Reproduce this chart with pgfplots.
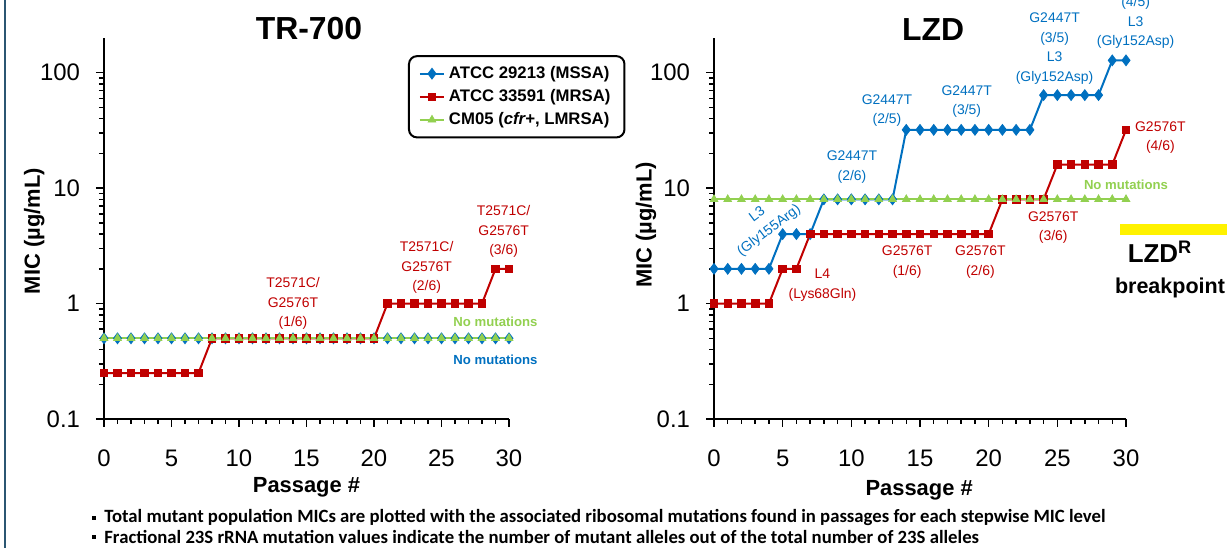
\documentclass[border=0pt]{standalone}
\usepackage{pgfplots}
\pgfplotsset{compat=1.18}
\usepackage{fontspec}
\setmainfont{Liberation Sans}
\newfontfamily\calibri{Carlito}

\definecolor{mssa}{HTML}{0070C0}
\definecolor{mrsa}{HTML}{C00000}
\definecolor{lmrsa}{HTML}{92D050}
\definecolor{slideframe}{HTML}{2B5672}

\pgfplotsset{
  every axis/.append style={
    scale only axis, height=190.5bp,
    ymode=log, ymin=0.1, ymax=200,
    xmin=0, xmax=30,
    axis x line*=bottom, axis y line*=left,
    axis line style={line width=0.75bp},
    tick align=outside,
    xtick={0,5,...,30}, minor x tick num=4,
    ytick={0.1,1,10,100}, yticklabels={0.1,1,10,100},
    major tick length=4bp, minor tick length=2.5bp,
    tick style={line width=0.75bp, black},
    tick label style={font=\fontsize{12}{14}\selectfont},
    xticklabel style={yshift=-8bp},
    yticklabel style={xshift=-4.5bp},
    /pgf/number format/assume math mode=true,
    label style={font=\bfseries\fontsize{11}{13}\selectfont},
    title style={font=\bfseries\fontsize{16}{18}\selectfont, anchor=center, yshift=-6pt},
    xlabel={Passage \#}, ylabel={MIC (µg/mL)},
    clip=false,
  },
}
\tikzset{
  mssaplot/.style={mssa, line width=1bp, mark=diamond*, mark size=2.7bp, mark options={fill=mssa, line width=0.4bp}},
  mrsaplot/.style={mrsa, line width=1bp, mark=square*, mark size=1.9bp, mark options={fill=mrsa, line width=0.4bp}},
  lmrsaplot/.style={lmrsa, line width=1bp, mark=triangle*, mark size=2.2bp, mark options={fill=lmrsa, line width=0.4bp}},
  ann/.style={align=center, inner sep=0pt, font=\fontsize{7}{9.8}\selectfont},
  nomut/.style={inner sep=0pt, font=\bfseries\fontsize{6.6}{8}\selectfont},
}

\begin{document}
\begin{tikzpicture}
\useasboundingbox (0,0) rectangle (613.5bp,274bp);
\draw[slideframe, line width=1.3bp] (2.4bp,0) -- (2.4bp,274bp);

% TR-700
\begin{axis}[at={(52bp,64.5bp)}, anchor=south west, width=202.5bp,
  title={TR-700}, title style={at={(axis description cs:0.506,1.026)}},
  xlabel style={at={(axis description cs:0.5,-0.18)}, anchor=center},
  ylabel style={at={(axis description cs:-0.172,0.493)}, anchor=center},
  legend style={at={(axis description cs:0.7506,0.955)}, anchor=north west,
    draw=black, line width=1bp, rounded corners=4bp,
    font=\bfseries\fontsize{8.4}{10}\selectfont, row sep=0bp,
    inner xsep=5bp, inner ysep=3bp},
  legend cell align=left,
  legend image code/.code={\draw[mark repeat=2,mark phase=2] plot coordinates {(0bp,0bp) (6bp,0bp) (12bp,0bp)};},
]
\addplot[mssaplot] coordinates {(0,0.5) (1,0.5) (2,0.5) (3,0.5) (4,0.5) (5,0.5) (6,0.5) (7,0.5) (8,0.5) (9,0.5) (10,0.5) (11,0.5) (12,0.5) (13,0.5) (14,0.5) (15,0.5) (16,0.5) (17,0.5) (18,0.5) (19,0.5) (20,0.5) (21,0.5) (22,0.5) (23,0.5) (24,0.5) (25,0.5) (26,0.5) (27,0.5) (28,0.5) (29,0.5) (30,0.5)};
\addlegendentry{ATCC 29213 (MSSA)}
\addplot[mrsaplot] coordinates {(0,0.25) (1,0.25) (2,0.25) (3,0.25) (4,0.25) (5,0.25) (6,0.25) (7,0.25) (8,0.5) (9,0.5) (10,0.5) (11,0.5) (12,0.5) (13,0.5) (14,0.5) (15,0.5) (16,0.5) (17,0.5) (18,0.5) (19,0.5) (20,0.5) (21,1) (22,1) (23,1) (24,1) (25,1) (26,1) (27,1) (28,1) (29,2) (30,2)};
\addlegendentry{ATCC 33591 (MRSA)}
\addplot[lmrsaplot] coordinates {(0,0.5) (1,0.5) (2,0.5) (3,0.5) (4,0.5) (5,0.5) (6,0.5) (7,0.5) (8,0.5) (9,0.5) (10,0.5) (11,0.5) (12,0.5) (13,0.5) (14,0.5) (15,0.5) (16,0.5) (17,0.5) (18,0.5) (19,0.5) (20,0.5) (21,0.5) (22,0.5) (23,0.5) (24,0.5) (25,0.5) (26,0.5) (27,0.5) (28,0.5) (29,0.5) (30,0.5)};
\addlegendentry{CM05 (\textit{cfr+}, LMRSA)}
\node[ann, mrsa] at (axis cs:14,1.0) {T2571C/\\G2576T\\(1/6)};
\node[ann, mrsa] at (axis cs:23.9,2.04) {T2571C/\\G2576T\\(2/6)};
\node[ann, mrsa] at (axis cs:29.6,4.19) {T2571C/\\G2576T\\(3/6)};
\node[nomut, lmrsa] at (axis cs:29,0.69) {No mutations};
\node[nomut, mssa] at (axis cs:29,0.325) {No mutations};
\end{axis}

% LZD
\begin{axis}[at={(357bp,64.5bp)}, anchor=south west, width=206bp,
  title={LZD}, title style={at={(axis description cs:0.532,1.021)}},
  xlabel style={at={(axis description cs:0.498,-0.188)}, anchor=center},
  ylabel style={at={(axis description cs:-0.165,0.509)}, anchor=center},
]
\addplot[mssaplot] coordinates {(0,2) (1,2) (2,2) (3,2) (4,2) (5,4) (6,4) (7,4) (8,8) (9,8) (10,8) (11,8) (12,8) (13,8) (14,32) (15,32) (16,32) (17,32) (18,32) (19,32) (20,32) (21,32) (22,32) (23,32) (24,64) (25,64) (26,64) (27,64) (28,64) (29,128) (30,128)};
\addplot[mrsaplot] coordinates {(0,1) (1,1) (2,1) (3,1) (4,1) (5,2) (6,2) (7,4) (8,4) (9,4) (10,4) (11,4) (12,4) (13,4) (14,4) (15,4) (16,4) (17,4) (18,4) (19,4) (20,4) (21,8) (22,8) (23,8) (24,8) (25,16) (26,16) (27,16) (28,16) (29,16) (30,32)};
\addplot[lmrsaplot] coordinates {(0,8) (1,8) (2,8) (3,8) (4,8) (5,8) (6,8) (7,8) (8,8) (9,8) (10,8) (11,8) (12,8) (13,8) (14,8) (15,8) (16,8) (17,8) (18,8) (19,8) (20,8) (21,8) (22,8) (23,8) (24,8) (25,8) (26,8) (27,8) (28,8) (29,8) (30,8)};
\node[ann, mssa, rotate=37] at (axis cs:3.6,5.0) {L3\\(Gly155Arg)};
\node[ann, mrsa] at (axis cs:7.9,1.45) {L4\\(Lys68Gln)};
\node[ann, mssa] at (axis cs:10.05,15.3) {G2447T\\(2/6)};
\node[ann, mrsa] at (axis cs:14.06,2.3) {G2576T\\(1/6)};
\node[ann, mrsa] at (axis cs:19.4,2.3) {G2576T\\(2/6)};
\node[ann, mssa] at (axis cs:12.6,46.9) {G2447T\\(2/5)};
\node[ann, mssa] at (axis cs:18.4,56) {G2447T\\(3/5)};
\node[ann, mssa] at (axis cs:24.8,162) {G2447T\\(3/5)\\L3\\(Gly152Asp)};
\node[ann, mssa] at (axis cs:30.7,330) {G2447T\\(4/5)\\L3\\(Gly152Asp)};
\node[ann, mrsa] at (axis cs:32.5,27.4) {G2576T\\(4/6)};
\node[ann, mrsa] at (axis cs:24.7,4.54) {G2576T\\(3/6)};
\node[nomut, lmrsa] at (axis cs:30,10.7) {No mutations};
\end{axis}

\fill[yellow] (560bp,156.5bp) rectangle (613.5bp,162bp);
\node[font=\bfseries\fontsize{13}{15}\selectfont, inner sep=0pt] at (580bp,148bp) {LZD\textsuperscript{R}};
\node[font=\bfseries\fontsize{10.8}{13}\selectfont, inner sep=0pt] at (585bp,130bp) {breakpoint};

\fill (46bp,14bp) rectangle (48bp,16bp);
\node[anchor=west, inner sep=0pt, font=\calibri\bfseries\fontsize{9.4}{11}\selectfont] at (52bp,15bp) {Total mutant population MICs are plotted with the associated ribosomal mutations found in passages for each stepwise MIC level};
\fill (46bp,4.5bp) rectangle (48bp,6.5bp);
\node[anchor=west, inner sep=0pt, font=\calibri\bfseries\fontsize{9.4}{11}\selectfont] at (52bp,5.5bp) {Fractional 23S rRNA mutation values indicate the number of mutant alleles out of the total number of 23S alleles};
\end{tikzpicture}
\end{document}
